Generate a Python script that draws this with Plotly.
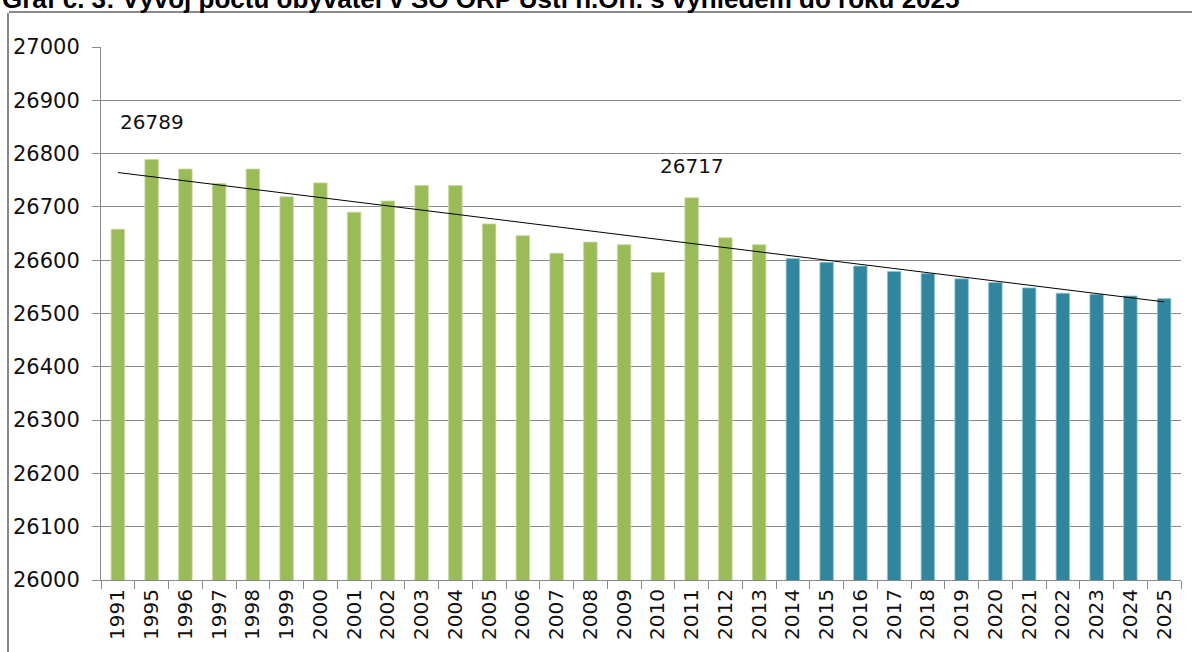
import numpy as np
import plotly.graph_objects as go

title_text = "Graf č. 3: Vývoj počtu obyvatel v SO ORP Ústí n.Orl. s výhledem do roku 2025"

years_observed = ["1991", "1995", "1996", "1997", "1998", "1999", "2000", "2001", "2002",
                  "2003", "2004", "2005", "2006", "2007", "2008", "2009", "2010", "2011",
                  "2012", "2013"]
pop_observed = [26658, 26789, 26771, 26744, 26771, 26719, 26745, 26690, 26711,
                26740, 26740, 26668, 26646, 26613, 26634, 26629, 26577, 26717,
                26642, 26629]

years_forecast = ["2014", "2015", "2016", "2017", "2018", "2019", "2020", "2021",
                  "2022", "2023", "2024", "2025"]
pop_forecast = [26603, 26596, 26589, 26579, 26575, 26565, 26558, 26548,
                26538, 26536, 26533, 26528]

y_ticks = [26000, 26100, 26200, 26300, 26400, 26500, 26600, 26700, 26800, 26900, 27000]

label_max = ("1995", 26789)
label_2011 = ("2011", 26717)

all_years = years_observed + years_forecast
all_pop = pop_observed + pop_forecast

# linear trendline (Excel-style, x = 1..n)
xs = np.arange(1, len(all_pop) + 1)
k, q = np.polyfit(xs, all_pop, 1)
trend = k * xs + q

FONT = "DejaVu Sans"
GRID = "#8a8a8a"
FRAME = "#898989"
TXT = "#111111"

W, H = 1192, 652
ML, MT = 9, 13            # chart frame offset (left / top)
PW, PH = W - ML, H - MT   # paper area size
PX0, PX1 = 101, 1181      # plot area in pixels
PY0, PY1 = 47, 580

fig = go.Figure()
fig.add_trace(go.Bar(
    x=years_observed, y=pop_observed, width=0.4,
    marker=dict(color="#9BBB59", line=dict(color="#c4d99b", width=0.8)),
    showlegend=False, hoverinfo="x+y",
))
fig.add_trace(go.Bar(
    x=years_forecast, y=pop_forecast, width=0.4,
    marker=dict(color="#31859C", line=dict(color="#8fc6d6", width=0.8)),
    showlegend=False, hoverinfo="x+y",
))
fig.add_trace(go.Scatter(
    x=all_years, y=trend, mode="lines",
    line=dict(color="#000000", width=1), showlegend=False, hoverinfo="skip",
))
# helper traces for the two thin frame strips (top edge x3/y3, left edge x4/y4)
fig.add_trace(go.Scatter(
    x=[0, 1], y=[0, 1], xaxis="x3", yaxis="y3", mode="lines",
    line=dict(width=0, color="rgba(0,0,0,0)"), showlegend=False, hoverinfo="skip",
))
fig.add_trace(go.Scatter(
    x=[0, 1], y=[0, 1], xaxis="x4", yaxis="y4", mode="lines",
    line=dict(width=0, color="rgba(0,0,0,0)"), showlegend=False, hoverinfo="skip",
))

fig.add_annotation(x=all_years.index(label_max[0]), y=26860, xref="x", yref="y",
                   text=str(label_max[1]), showarrow=False,
                   font=dict(family=FONT, size=20, color=TXT))
fig.add_annotation(x=all_years.index(label_2011[0]), y=26776, xref="x", yref="y",
                   text=str(label_2011[1]), showarrow=False,
                   font=dict(family=FONT, size=20, color=TXT))

# cut-off title at the very top
fig.add_annotation(x=0, y=1.0, xref="paper", yref="paper", xanchor="left", yanchor="bottom",
                   xshift=-ML, yshift=-3, text="<b>" + title_text + "</b>", showarrow=False,
                   font=dict(family="Liberation Sans", size=26, color="#000000"))

frame_axis = dict(range=[0, 1], showline=True, linecolor=FRAME, linewidth=2,
                  automargin=False, showgrid=False, zeroline=False,
                  showticklabels=False, ticks="", fixedrange=True)
hidden_axis = dict(range=[0, 1], showline=False, automargin=False, showgrid=False,
                   zeroline=False, showticklabels=False, ticks="", fixedrange=True)

fig.update_layout(
    width=W, height=H,
    margin=dict(l=ML, r=0, t=MT, b=0, autoexpand=False),
    paper_bgcolor="white", plot_bgcolor="white",
    barmode="overlay",
    font=dict(family=FONT, size=20, color=TXT),
    xaxis=dict(
        domain=[(PX0 - ML) / PW, (PX1 - ML) / PW], anchor="y", automargin=False,
        type="category", categoryorder="array", categoryarray=all_years,
        tickangle=-90, ticks="outside", tickson="boundaries", ticklen=8,
        tickcolor=GRID, showline=True, linecolor=GRID, linewidth=1,
        showgrid=False, tickfont=dict(family=FONT, size=20, color=TXT),
        range=[-0.5, len(all_years) - 0.5],
    ),
    yaxis=dict(
        domain=[(H - PY1) / PH, (H - PY0) / PH], anchor="x", automargin=False,
        range=[26000, 27000], tickvals=y_ticks, ticktext=[str(v) for v in y_ticks],
        ticks="outside", ticklen=8, tickcolor=GRID,
        showline=True, linecolor=GRID, linewidth=1,
        showgrid=True, gridcolor=GRID, gridwidth=1, zeroline=False,
        tickfont=dict(family=FONT, size=21, color=TXT),
        ticklabelstandoff=8,
    ),
    # top edge of the chart frame
    xaxis3=dict(domain=[0, 1], anchor="y3", side="top", **frame_axis),
    yaxis3=dict(domain=[1 - 3 / PH, 1], anchor="x3", **hidden_axis),
    # left edge of the chart frame
    xaxis4=dict(domain=[0, 3 / PW], anchor="y4", **hidden_axis),
    yaxis4=dict(domain=[0, 1], anchor="x4", side="left", **frame_axis),
)

fig.write_html("out.html", config={"displayModeBar": False},
               post_script="document.body.style.margin='0px';document.body.style.overflow='hidden';")
